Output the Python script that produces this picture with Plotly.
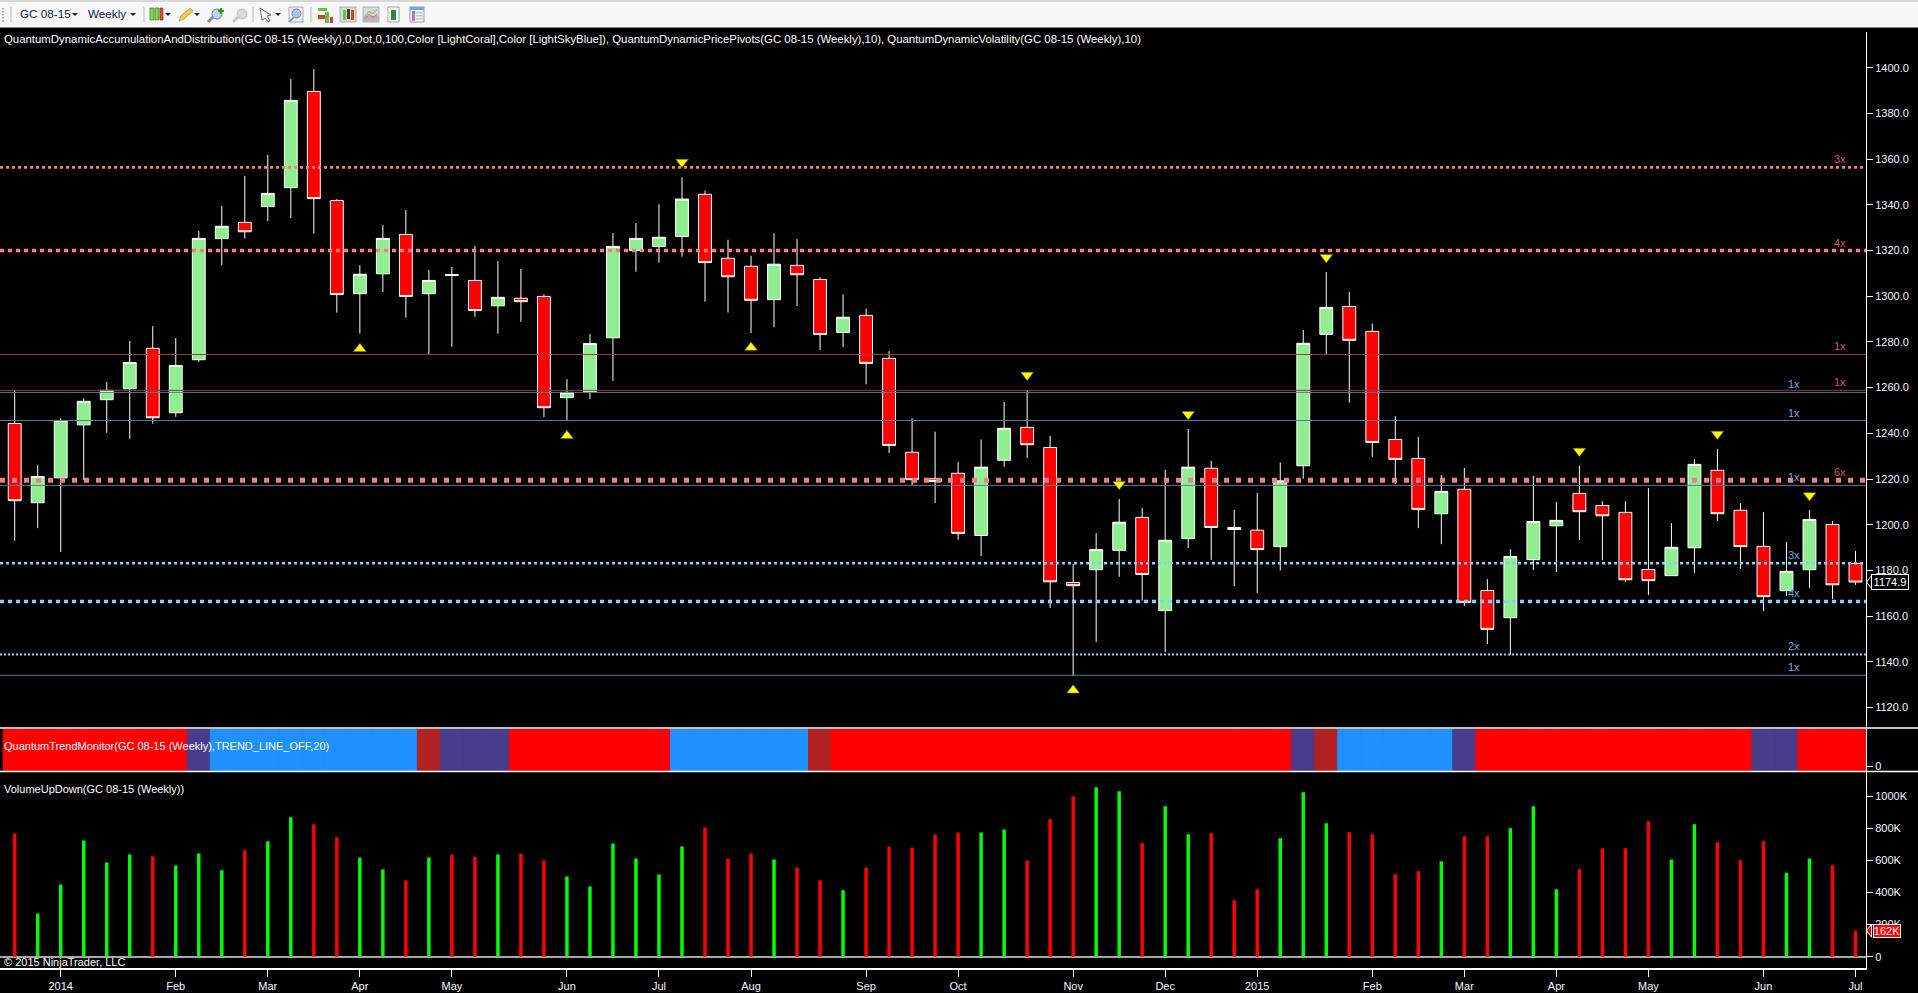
import plotly.graph_objects as go

W, H = 1918, 993

# ---------- data ----------
price_high = [1258.9,1226,1246.5,1255.3,1262.4,1280.4,1286.9,1281.7,1328.5,1339.5,1352.6,1361.8,1395,1399.4,1342.5,1313.6,1331.1,1337.7,1311.5,1312.8,1322,1315.4,1311.9,1300.8,1263.7,1283.4,1327.6,1332,1340.2,1352,1346.2,1324.7,1317.7,1327.5,1325,1308.3,1300.8,1294.5,1276,1246.6,1240.7,1227.5,1237.3,1253.7,1259,1238.9,1182.8,1196.3,1211.3,1207.4,1224,1241.9,1228,1206.5,1213.9,1227.2,1285.2,1310.6,1301.8,1288,1247.5,1238.4,1221.7,1224.8,1176.2,1189.3,1221.3,1209.9,1225.7,1210.3,1210.3,1216,1200.7,1228.7,1233.1,1209.5,1205.5,1192.4,1206.4,1201.6,1188.5]
price_low = [1193,1198.5,1188,1219.5,1240.2,1237.6,1244.2,1247.2,1271.3,1313.6,1325.2,1332.9,1334.2,1327.4,1292.8,1283.6,1301.8,1290.6,1274.4,1277.9,1291,1283.6,1288.8,1247.1,1245.5,1255,1262.9,1310.7,1314.7,1317.3,1297.6,1292.9,1283.9,1286.4,1295.7,1276.5,1277.8,1261.4,1231.3,1217.4,1209.5,1193.4,1186.3,1225.4,1229.2,1163.6,1133.7,1148.7,1177.2,1166.8,1144.3,1189.8,1184.6,1173.1,1170.1,1180,1220.1,1274.4,1253.4,1229.7,1217.8,1198.5,1191.5,1164.4,1147.8,1143,1180.2,1179.3,1193.3,1184.5,1174.9,1169.2,1177.7,1178.8,1201.6,1180.6,1162.2,1168.8,1172.3,1167.5,1173.7]
price_open = [1244.3,1209.6,1220.5,1243.7,1254.7,1259.5,1277.2,1249,1272.2,1325.2,1332.3,1339.2,1347.5,1389.6,1341.9,1301.1,1309.8,1327,1301.1,1309.5,1306.9,1295.8,1299.1,1299.9,1255.6,1258.2,1281.8,1320,1321.7,1326.1,1344.6,1316.6,1313.1,1298.5,1313.5,1307.3,1284.1,1291.6,1272.8,1231.7,1220.1,1222.5,1195.3,1228.2,1242.6,1233.8,1174.7,1180.3,1188.8,1203.2,1162.4,1193.9,1224.7,1198.8,1197.6,1190.4,1225.8,1283.3,1295.5,1284.6,1237.3,1229,1204.8,1215.5,1171.2,1159.3,1184.7,1199.5,1213.7,1208.4,1205.4,1180.4,1177.7,1189.9,1223.8,1206.3,1190.5,1171.1,1180.3,1200.1,1183.1]
price_close = [1210.5,1221.1,1245.6,1254,1258.8,1271,1246.8,1269.7,1325.3,1330.6,1328.2,1345,1385.7,1342.7,1300.7,1309.6,1325.3,1299.9,1306.9,1309.1,1293.7,1299.5,1297.6,1251.2,1257.9,1279.3,1321.8,1325.3,1325.8,1342.5,1314.7,1308.5,1298.2,1314,1309.4,1283.2,1290.8,1270.6,1234.7,1219.7,1218.9,1196.2,1225.2,1242.2,1235,1175,1173.3,1189.1,1201.1,1178.2,1193.2,1225.2,1198.8,1197.9,1189.1,1219.2,1279.4,1295.1,1280.7,1236,1228.6,1206.7,1214.6,1166,1154.2,1186.1,1201.4,1201.9,1205.7,1203.9,1175.9,1175.5,1190.1,1226.4,1204.8,1190.4,1168.5,1179.6,1202.3,1173.7,1174.9]
volume_k = [768,270,450,724,587,637,624,568,643,539,664,720,870,826,745,618,543,477,618,637,624,637,643,600,500,437,705,612,512,687,805,612,643,606,556,477,414,556,687,680,762,774,774,793,600,857,1001,1057,1032,707,938,763,769,352,420,738,1026,832,776,763,514,533,595,751,751,801,938,420,545,676,676,845,606,826,713,601,719,524,612,570,162]
# trend monitor state for each run of bars: (state, number of bars)
trend_runs = [("down",8),("flat",1),("up",9),("weak",1),("flat",3),("down",7),("up",6),("weak",1),("down",20),("flat",1),("weak",1),("up",5),("flat",1),("down",12),("flat",2),("down",3)]

pivot_low_bars = [15,24,32,46]
pivot_low_vals = [1277.0,1238.9,1277.5,1127.5]
pivot_high_bars = [29,44,48,51,57,68,74,78]
pivot_high_vals = [1358.7,1265.5,1217.7,1248.3,1317.0,1232.2,1239.7,1212.8]

red_levels = [1356.4,1320.0,1274.5,1258.8,1219.4]
red_labels = ["3x","4x","1x","1x","6x"]
blue_levels = [1257.9,1245.6,1217.2,1183.1,1166.4,1143.2,1134.1]
blue_labels = ["1x","1x","1x","3x","4x","2x","1x"]

month_bars = [2,7,11,15,19,24,28,32,37,41,46,50,54,59,63,67,71,76,80]
month_labels = ["2014","Feb","Mar","Apr","May","Jun","Jul","Aug","Sep","Oct","Nov","Dec","2015","Feb","Mar","Apr","May","Jun","Jul"]
price_ticks = [1120,1140,1160,1180,1200,1220,1240,1260,1280,1300,1320,1340,1360,1380,1400]
volume_ticks = [0,200,400,600,800,1000]
volume_tick_labels = ["0","200K","400K","600K","800K","1000K"]

top_text = ("QuantumDynamicAccumulationAndDistribution(GC 08-15 (Weekly),0,Dot,0,100,Color [LightCoral],Color [LightSkyBlue]), "
            "QuantumDynamicPricePivots(GC 08-15 (Weekly),10), QuantumDynamicVolatility(GC 08-15 (Weekly),10)")
trend_text = "QuantumTrendMonitor(GC 08-15 (Weekly),TREND_LINE_OFF,20)"
volume_text = "VolumeUpDown(GC 08-15 (Weekly))"
copyright_text = "© 2015 NinjaTrader, LLC"
toolbar_labels = ["GC 08-15", "Weekly"]

# ---------- styles ----------
FONT = "Liberation Sans"
TREND_COLORS = {"down":"#FF0000","up":"#1E90FF","flat":"#483D8B","weak":"#B22222"}
DOT_STYLE = {"2x":(2,"2px,2px"),"3x":(2.6,"3px,3px"),"4x":(3.6,"4px,4px"),"6x":(5,"5px,7px")}
bars = list(range(len(price_open)))
trend_state = [s for s, n in trend_runs for _ in range(n)]
is_up = [c > o for o, c in zip(price_open, price_close)]

def fx(px): return px / W
def fy(py): return 1 - py / H

PX_LEFT, PX_AXIS = 0, 1866
BAR0, STEP = 14.7, 23.01
x_range = [(PX_LEFT-BAR0)/STEP, (PX_AXIS-BAR0)/STEP]

fig = go.Figure()

# pivot levels
def add_levels(levels, labels, solid, dotted):
    for v, lab in zip(levels, labels):
        if lab == "1x":
            line = dict(color=solid, width=1)
        else:
            w, d = DOT_STYLE[lab]
            line = dict(color=dotted, width=w, dash=d)
        fig.add_trace(go.Scatter(x=x_range, y=[v, v], mode="lines", line=line,
                                 xaxis="x", yaxis="y", hoverinfo="skip", showlegend=False))
add_levels(red_levels, red_labels, "#8B4040", "#F08080")
add_levels(blue_levels, blue_labels, "#4F7E9C", "#87CEFA")

# candles
fig.add_trace(go.Candlestick(
    x=bars, open=price_open, high=price_high, low=price_low, close=price_close,
    increasing=dict(fillcolor="#90EE90", line=dict(color="#FFFFFF", width=1)),
    decreasing=dict(fillcolor="#FF0000", line=dict(color="#FFFFFF", width=1)),
    whiskerwidth=0, xaxis="x", yaxis="y", hoverinfo="skip", showlegend=False))

# pivot markers
fig.add_trace(go.Scatter(x=pivot_low_bars, y=pivot_low_vals, mode="markers",
    marker=dict(symbol="triangle-up", size=11, color="#FFFF00", line=dict(color="#6B6B00", width=0.6)),
    xaxis="x", yaxis="y", hoverinfo="skip", showlegend=False))
fig.add_trace(go.Scatter(x=pivot_high_bars, y=pivot_high_vals, mode="markers",
    marker=dict(symbol="triangle-down", size=11, color="#FFFF00", line=dict(color="#6B6B00", width=0.6)),
    xaxis="x", yaxis="y", hoverinfo="skip", showlegend=False))

# trend monitor
trend_colors = [TREND_COLORS[s] for s in trend_state]
fig.add_trace(go.Bar(x=bars, y=[1.13]*len(bars), base=-0.13, width=1,
    marker=dict(color=trend_colors, line=dict(width=1, color=trend_colors)),
    xaxis="x", yaxis="y2", hoverinfo="skip", showlegend=False))

# volume
fig.add_trace(go.Bar(x=bars, y=volume_k, width=0.15,
    marker=dict(color=["#00FF00" if u else "#FF0000" for u in is_up], line=dict(width=0)),
    xaxis="x", yaxis="y3", hoverinfo="skip", showlegend=False))

# ---------- annotations ----------
def text(px, py, s, size=11, color="#FFFFFF", anchor="left"):
    return dict(x=fx(px), y=fy(py), xref="paper", yref="paper", text=s, showarrow=False,
                xanchor=anchor, yanchor="middle", font=dict(family=FONT, size=size, color=color))

ann = [text(2, 39, top_text, 11.4), text(2, 746, trend_text), text(2, 789, volume_text),
       text(2, 962, copyright_text),
       text(18, 14, toolbar_labels[0], 11.7, "#10203A"), text(86, 14, toolbar_labels[1], 11.7, "#10203A")]

for v, lab in zip(red_levels, red_labels):
    ann.append(dict(x=(1840-BAR0)/STEP, y=v, xref="x", yref="y", text=lab, showarrow=False, yshift=8,
                    font=dict(family=FONT, size=11, color="#C9605C")))
for v, lab in zip(blue_levels, blue_labels):
    ann.append(dict(x=(1794-BAR0)/STEP, y=v, xref="x", yref="y", text=lab, showarrow=False, yshift=8,
                    font=dict(family=FONT, size=11, color="#6FA8DC")))

ann.append(dict(x=fx(1889.5), y=price_close[-1], xref="paper", yref="y", text=f"{price_close[-1]:.1f}",
                xanchor="center", yanchor="middle",
                showarrow=False, font=dict(family=FONT, size=11, color="#FFFFFF"),
                bgcolor="#000000", bordercolor="#FFFFFF", borderwidth=1, borderpad=1, width=34))
ann.append(dict(x=fx(1887), y=volume_k[-1], xref="paper", yref="y3", text=f"{volume_k[-1]}K",
                xanchor="center", yanchor="middle",
                showarrow=False, font=dict(family=FONT, size=11, color="#FFFFFF"),
                bgcolor="#FF0000", bordercolor="#FFFFFF", borderwidth=1, borderpad=0, width=26))

# ---------- chrome shapes ----------
shapes = []
def rect(x0, y0, x1, y1, fill, line=None, lw=0):
    shapes.append(dict(type="rect", xref="paper", yref="paper", x0=fx(x0), x1=fx(x1), y0=fy(y0), y1=fy(y1),
                       fillcolor=fill, line=dict(color=line or fill, width=lw), layer="above"))
def poly(pts, fill, line=None, lw=0):
    path = "M " + " L ".join(f"{fx(a):.5f} {fy(b):.5f}" for a, b in pts) + " Z"
    shapes.append(dict(type="path", xref="paper", yref="paper", path=path, fillcolor=fill,
                       line=dict(color=line or fill, width=lw), layer="above"))
def seg(x0, y0, x1, y1, color, lw=1):
    shapes.append(dict(type="line", xref="paper", yref="paper", x0=fx(x0), x1=fx(x1), y0=fy(y0), y1=fy(y1),
                       line=dict(color=color, width=lw), layer="above"))

# toolbar
rect(0, 0, W, 27, "#F7F7F7")
rect(0, 0, W, 2, "#D8D8D8")
seg(0, 27, W, 27, "#FFFFFF", 1)
for yy in (8, 11, 14, 17, 20):
    rect(2, yy, 4, yy+1.5, "#B0B0B0")
for xx in (11, 144, 253, 311):
    seg(xx, 7, xx, 22, "#B8B8B8")
for xx in (75, 133, 168, 197, 278):
    poly([(xx-3, 13), (xx+3, 13), (xx, 16)], "#202020")
# candle icon
rect(150, 8, 154, 20, "#7FD84A", "#2E6B1E", 0.6)
rect(155, 8, 159, 20, "#7FD84A", "#2E6B1E", 0.6)
rect(160, 8, 163, 20, "#E84A3C", "#7A1E1E", 0.6)
# pencil
poly([(179, 21), (181, 16), (190, 8), (193, 11), (184, 19)], "#F2C94C", "#B8860B", 0.6)
# magnifiers
poly([(207, 21), (213, 15), (215, 17), (209, 23)], "#8A8A8A")
shapes.append(dict(type="circle", xref="paper", yref="paper", x0=fx(212), x1=fx(222), y0=fy(9), y1=fy(19),
                   fillcolor="#BFD4E6", line=dict(color="#6D8292", width=1), layer="above"))
rect(220, 8, 222, 14, "#19A319"); rect(218, 10, 224, 12, "#19A319")
poly([(232, 21), (238, 15), (240, 17), (234, 23)], "#C4C4C4")
shapes.append(dict(type="circle", xref="paper", yref="paper", x0=fx(237), x1=fx(247), y0=fy(9), y1=fy(19),
                   fillcolor="#D8D8D8", line=dict(color="#C0C0C0", width=1), layer="above"))
# cursor
poly([(260, 8), (271, 15), (267, 16), (270, 21), (268, 22), (265, 18), (262, 20)], "#FFFFFF", "#404040", 0.8)
# zoom box
rect(289, 7, 303, 22, "#F0F0F0", "#9A9A9A", 0.8)
shapes.append(dict(type="circle", xref="paper", yref="paper", x0=fx(292), x1=fx(301), y0=fy(9), y1=fy(18),
                   fillcolor="#A9C6E0", line=dict(color="#6D8292", width=1), layer="above"))
poly([(289, 21), (293, 17), (294, 18), (290, 22)], "#707070")
# indicator buttons
rect(318, 8, 327, 11, "#5FC24A"); rect(318, 15, 327, 19, "#D8402E")
rect(325, 12, 329, 23, "#5FC24A"); rect(330, 17, 333, 23, "#D8402E")
rect(340, 7, 356, 22, "#D9D9D9", "#8A8A8A", 0.6)
rect(343, 10, 346, 20, "#5FC24A"); rect(347, 9, 350, 19, "#404040"); rect(351, 10, 354, 20, "#D8402E")
rect(363, 7, 379, 22, "#D9D9D9", "#8A8A8A", 0.6)
rect(363, 16, 379, 22, "#B8B8B8")
poly([(365, 16), (369, 11), (373, 13), (377, 9), (377, 10), (373, 14), (369, 12), (365, 17)], "#54B868")
poly([(365, 18), (369, 14), (373, 17), (377, 14), (377, 15), (373, 18), (369, 15), (365, 19)], "#D8584E")
rect(388, 7, 399, 22, "#FFFFFF", "#8A8A8A", 0.8)
rect(391, 10, 396, 20, "#2B8A3E")
rect(410, 7, 424, 22, "#F4F4F4", "#8A8A8A", 0.8)
rect(410, 7, 424, 10, "#7AA7D8"); rect(412, 11, 415, 21, "#A078E0")
for yy in (12, 15, 18):
    rect(416, yy, 423, yy+1.5, "#B8C8D8")

# pane separators (run across the full width)
seg(0, 728, W, 728, "#FFFFFF", 1.5)
seg(0, 771.5, W, 771.5, "#FFFFFF", 1.5)
# price tags' pointers
def tip(y_px, fill):
    poly([(1866.5, y_px), (1871.5, y_px-6.5), (1871.5, y_px+6.5)], fill, "#FFFFFF", 1)
p2y = lambda p: 67.7 + (1400 - p) * 2.285
tip(p2y(price_close[-1]), "#000000")
tip(956.7 - volume_k[-1] * 0.1604, "#FF0000")

# ---------- layout ----------
axis_font = dict(family=FONT, size=11, color="#F2F8FF")
yax = dict(side="right", anchor="x", showgrid=False, zeroline=False, showline=True, linecolor="#FFFFFF", linewidth=1,
           ticks="outside", ticklen=6, tickcolor="#FFFFFF", tickwidth=1, tickfont=axis_font, fixedrange=True)

# pixel-calibrated ranges
price_top = 1400 + (67.7-32)/2.285
price_bot = 1400 - (728-67.7)/2.285
vol_top = (956.7-771.5)/0.1604
vol_bot = (956.7-968)/0.1604

fig.update_layout(
    width=W, height=H, margin=dict(l=0, r=0, t=0, b=0),
    paper_bgcolor="#000000", plot_bgcolor="#000000", showlegend=False, barmode="overlay",
    xaxis=dict(domain=[0, fx(PX_AXIS)], range=x_range, anchor="y3", rangeslider=dict(visible=False),
               showgrid=False, zeroline=False, showline=True, linecolor="#FFFFFF", linewidth=1.5,
               ticks="outside", ticklen=7, tickcolor="#FFFFFF", tickmode="array",
               tickvals=month_bars, ticktext=month_labels, tickangle=0, tickfont=axis_font, fixedrange=True),
    yaxis=dict(domain=[fy(728), fy(32)], range=[price_bot, price_top], tickmode="array",
               tickvals=price_ticks, tickformat=".1f", **yax),
    yaxis2=dict(domain=[fy(771.5), fy(729)], range=[-0.13, 1], tickmode="array", tickvals=[0], **yax),
    yaxis3=dict(domain=[fy(968), fy(771.5)], range=[vol_bot, vol_top], tickmode="array",
                tickvals=volume_ticks, ticktext=volume_tick_labels,
                **{**yax, "zeroline": True, "zerolinecolor": "#A8A8A8", "zerolinewidth": 1.5}),
    annotations=ann, shapes=shapes, boxgap=0.2,
)

fig.write_html("out.html", config=dict(displayModeBar=False),
               post_script="document.body.style.margin='0';document.body.style.background='#000';document.body.style.overflow='hidden';")
